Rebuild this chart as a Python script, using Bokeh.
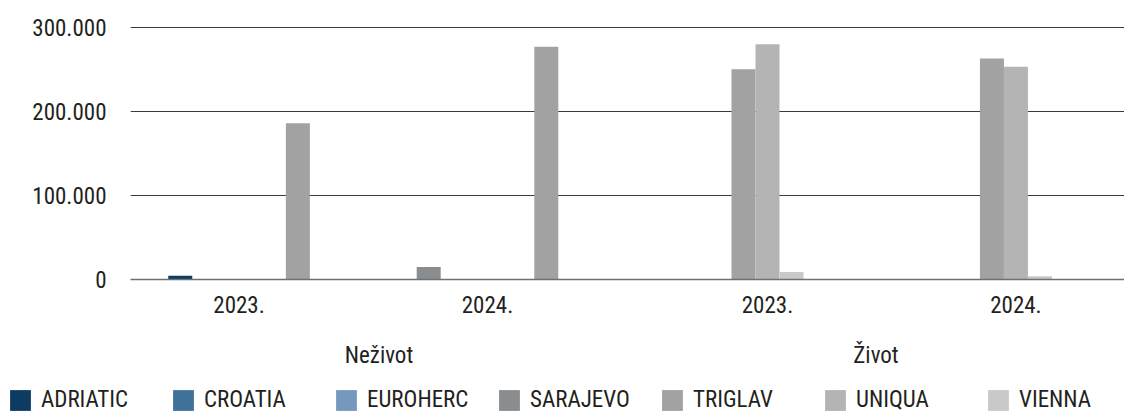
from bokeh.plotting import figure
from bokeh.layouts import column
from bokeh.models import (ColumnDataSource, FactorRange, Range1d, CategoricalAxis,
                          Legend, LegendItem, FixedTicker)
from bokeh.embed import file_html
from bokeh.resources import INLINE

# ---- data ----
groups = ["Neživot", "Neživot", "Život", "Život"]
years = ["2023.", "2024.", "2023.", "2024."]
group_names = ["Neživot", "Život"]
companies = ["ADRIATIC", "CROATIA", "EUROHERC", "SARAJEVO", "TRIGLAV", "UNIQUA", "VIENNA"]
adriatic = [4500, 0, 0, 0]
croatia = [0, 0, 0, 0]
euroherc = [0, 0, 0, 0]
sarajevo = [0, 15000, 0, 0]
triglav = [186000, 277000, 250000, 263000]
uniqua = [0, 0, 280000, 253000]
vienna = [0, 0, 9000, 4000]
y_ticks = [0, 100000, 200000, 300000]
y_tick_labels = ["0", "100.000", "200.000", "300.000"]

# ---- style ----
colors = ["#0d3c62", "#40719b", "#7598bc", "#8a8d90", "#a2a2a3", "#b4b4b4", "#c9c9c9"]
FONT = "Roboto Condensed"
TXT = "#231f20"
FS = "23px"

series_vals = [adriatic, croatia, euroherc, sarajevo, triglav, uniqua, vienna]
cats = list(zip(groups, years))

x_range = FactorRange(factors=cats, group_padding=0.127, factor_padding=0.0,
                      range_padding=-0.063, range_padding_units="absolute")

p = figure(x_range=x_range, y_range=Range1d(0, 301000), width=1124, height=380,
           output_backend="svg", toolbar_location=None,
           min_border_left=130, min_border_right=0, min_border_top=26,
           min_border_bottom=101)
p.outline_line_color = None
p.background_fill_color = "white"
p.border_fill_color = "white"
p.frame_align = False

bar_w = 0.0966
for i, (name, vals, col) in enumerate(zip(companies, series_vals, colors)):
    xs, tops = [], []
    for j, (g, yr) in enumerate(cats):
        if vals[j] <= 0:
            continue
        present = [s for s in range(len(companies)) if series_vals[s][j] > 0]
        k = present.index(i)
        n = len(present)
        step = bar_w * (4.9 if g == group_names[0] else 1)
        xs.append((g, yr, (k - (n - 1) / 2) * step))
        tops.append(vals[j])
    src = ColumnDataSource(dict(x=xs, top=tops))
    p.vbar(x="x", top="top", bottom=0, width=bar_w, source=src,
           fill_color=col, line_color=None)

# grid
p.xgrid.visible = False
p.ygrid.ticker = FixedTicker(ticks=y_ticks)
p.ygrid.grid_line_color = "#3a3a3a"
p.ygrid.grid_line_width = 1

# y axis
ya = p.yaxis[0]
ya.ticker = FixedTicker(ticks=y_ticks)
ya.major_label_overrides = {t: l for t, l in zip(y_ticks, y_tick_labels)}
ya.axis_line_color = None
ya.major_tick_line_color = None
ya.minor_tick_line_color = None
ya.major_label_standoff = 18
ya.major_label_text_font = FONT
ya.major_label_text_font_size = FS
ya.major_label_text_color = TXT

# x axis (years)
xa = p.xaxis[0]
xa.axis_line_color = "#707070"
xa.axis_line_width = 1.5
xa.major_tick_line_color = None
xa.minor_tick_line_color = None
xa.major_label_standoff = 10
xa.major_label_text_font = FONT
xa.major_label_text_font_size = FS
xa.major_label_text_color = TXT
xa.group_text_font_size = "1px"
xa.group_text_alpha = 0
xa.separator_line_alpha = 0

# second axis (groups)
p.extra_x_ranges = {"grp": FactorRange(factors=group_names)}
ax2 = CategoricalAxis(x_range_name="grp")
ax2.axis_line_color = None
ax2.major_tick_line_color = None
ax2.minor_tick_line_color = None
ax2.major_label_standoff = 20
ax2.major_label_text_font = FONT
ax2.major_label_text_font_size = FS
ax2.major_label_text_color = TXT
p.add_layout(ax2, "below")

# ---- legend strip ----
lg = figure(width=1124, height=33, output_backend="svg", toolbar_location=None,
            x_range=Range1d(0, 1), y_range=Range1d(0, 1), min_border=0)
lg.frame_align = False
lg.axis.visible = False
lg.grid.visible = False
lg.outline_line_color = None
lg.border_fill_color = "white"
items = []
for name, col in zip(companies, colors):
    # legend-only renderer: its single bar lies outside the strip's visible range
    r = lg.vbar(x=[5], top=[1], width=0.1, fill_color=col, line_color=None)
    items.append(LegendItem(label=name, renderers=[r]))
legend = Legend(items=items, orientation="horizontal", location=(7, 0),
                glyph_width=26, glyph_height=26, label_standoff=8, label_width=119,
                spacing=10, padding=0, margin=0,
                label_text_font=FONT, label_text_font_size=FS, label_text_color=TXT,
                border_line_color=None, background_fill_alpha=0)
lg.add_layout(legend, "center")

layout = column(p, lg, spacing=0)
open("out.html", "w").write(file_html(layout, INLINE))
